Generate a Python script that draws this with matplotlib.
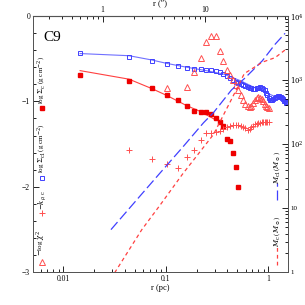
import numpy as np
import matplotlib
matplotlib.use('Agg')
import matplotlib.pyplot as plt
from matplotlib.lines import Line2D
from matplotlib.ticker import FixedLocator, NullFormatter, FuncFormatter, LogLocator

plt.rcParams['font.family'] = ['Liberation Serif', 'DejaVu Serif']
plt.rcParams['mathtext.fontset'] = 'dejavuserif'

# annulus radii (pc)
r_pc = [0.0146, 0.0438, 0.0730, 0.1022, 0.1314, 0.1606, 0.1898, 0.2190, 0.2482, 0.2774,
        0.3066, 0.3358, 0.3650, 0.3942, 0.4234, 0.4526, 0.4818, 0.5110, 0.5402, 0.5694,
        0.5986, 0.6278, 0.6570, 0.6862, 0.7154, 0.7446, 0.7738, 0.8030, 0.8322, 0.8614,
        0.8906, 0.9198, 0.9490, 0.9782, 1.0074, 1.0366, 1.0658, 1.0950, 1.1242, 1.1534,
        1.1826, 1.2118, 1.2410, 1.2702, 1.2994, 1.3286, 1.3578, 1.3870, 1.4162, 1.4454,
        1.4746, 1.5038, 1.5330]

# log Sigma_cl (blue open squares)
sig_cl = [-0.437, -0.48, -0.527, -0.563, -0.586, -0.61, -0.617, -0.625, -0.633, -0.635,
          -0.645, -0.653, -0.68, -0.703, -0.727, -0.75, -0.77, -0.785, -0.797, -0.81,
          -0.82, -0.83, -0.84, -0.845, -0.85, -0.85, -0.845, -0.84, -0.835, -0.84,
          -0.85, -0.87, -0.90, -0.93, -0.96, -0.98, -0.985, -0.98, -0.97, -0.96,
          -0.95, -0.945, -0.94, -0.94, -0.945, -0.95, -0.96, -0.975, -0.99, -1.0,
          -1.01, -1.02, -1.025]

# log Sigma_c (red filled squares)
sig_c = [-0.69, -0.76, -0.84, -0.92, -0.98, -1.06, -1.11, -1.12, -1.12, -1.15,
         -1.20, -1.24, -1.29, -1.44, -1.47, -1.61, -1.77, -2.00]

# log chi^2 (red open triangles)
nan = np.nan
chi2 = [nan, nan, nan, -0.847, nan, -0.836, -0.66, -0.49, -0.30, -0.23,
        -0.23, -0.41, -0.53, -0.63, -0.69, -0.75, -0.81, -0.87, -0.93, -0.98,
        -1.03, -1.06, -1.07, -1.05, -1.02, -0.98, -0.96, -0.95, -0.955, -0.97,
        -1.0, -1.03, -1.055, -1.07, -1.08]

# -k_rho,c (red pluses)
kval = [nan, -1.57, -1.68, -1.73, -1.785, -1.656, -1.57, -1.45, -1.37, -1.365,
        -1.36, -1.35, -1.32, -1.30, -1.29, -1.28, -1.28, -1.28, -1.285, -1.295,
        -1.31, -1.33, -1.32, -1.30, -1.285, -1.27, -1.26, -1.255, -1.25, -1.24,
        -1.24, -1.24, -1.24, -1.24, -1.24]

# model fits (solid lines)
fit_cl_r = [0.0146, 0.0438, 0.073, 0.102, 0.16, 0.248, 0.365, 0.54, 0.8, 1.2, 1.5]
fit_cl = [-0.44, -0.465, -0.515, -0.555, -0.60, -0.64, -0.68, -0.76, -0.86, -0.95, -1.0]
fit_c_r = [0.0146, 0.0438, 0.073, 0.102, 0.16, 0.219, 0.31]
fit_c = [-0.64, -0.74, -0.85, -0.93, -1.05, -1.12, -1.22]

# enclosed masses (Msun)
m_r = [0.0292, 0.0584, 0.0876, 0.146, 0.2336, 0.292, 0.438, 0.584, 0.876, 1.168, 1.46]
m_cl = [4.6, 16.6, 35, 89, 215, 309, 700, 1050, 2000, 3630, 5370]
m_c = [0.79, 4.6, 11, 34, 89, 141, 500, 1260, 1900, 2240, 2950]

pc_per_arcsec = 0.02424

fig = plt.figure(figsize=(3.05, 3.05), dpi=100)
ax = fig.add_axes([0.108, 0.108, 0.836, 0.8395])

blue = '#4040ff'
red = '#ee0000'
pink = '#ff5050'

ax.plot(fit_cl_r, fit_cl, '-', color='#7070ff', lw=0.8)
ax.plot(fit_c_r, fit_c, '-', color='#ff4040', lw=0.8)
ax.plot(r_pc, sig_cl, 's', mfc='none', mec=blue, ms=3.3, mew=0.7)
ax.plot(r_pc[:len(sig_c)], sig_c, 's', color=red, ms=3.3)
ax.plot(r_pc[:len(chi2)], chi2, '^', mfc='none', mec=pink, ms=4, mew=0.7)
ax.plot(r_pc[:len(kval)], kval, '+', color=pink, ms=5, mew=0.7)

ax.set_xscale('log')
ax.set_xlim(0.00506, 1.556)
ax.set_ylim(-3, 0)
ax.yaxis.set_major_locator(FixedLocator([-3, -2, -1, 0]))
ax.yaxis.set_minor_locator(FixedLocator(np.arange(-3, 0.01, 0.2)))
ax.xaxis.set_major_formatter(FuncFormatter(lambda v, p: {0.01: '0.01', 0.1: '0.1', 1: '1'}.get(round(v, 3), '')))
ax.tick_params(which='both', direction='in', labelsize=5.5, width=0.6, pad=2)
ax.tick_params(which='major', length=4)
ax.tick_params(which='minor', length=2)
ax.tick_params(axis='y', right=False)
ax.set_xlabel('r (pc)', fontsize=6, labelpad=1)
for s in ax.spines.values():
    s.set_linewidth(0.7)
    s.set_color('#555555')

# right axis: masses
ax2 = ax.twinx()
ax2.set_yscale('log')
ax2.set_ylim(1, 1e4)
ax2.plot(m_r, m_cl, color='#4040ff', lw=0.9, dashes=(8, 3))
ax2.plot(m_r, m_c, color='#ff4040', lw=0.9, dashes=(3, 2.5))
ax2.yaxis.set_major_formatter(FuncFormatter(
    lambda v, p: {1: '1', 10: '10'}.get(int(round(v)), r'$10^{%d}$' % int(round(np.log10(v))))))
ax2.tick_params(which='both', direction='in', labelsize=5, width=0.6, pad=1.5)
ax2.tick_params(which='major', length=4)
ax2.tick_params(which='minor', length=2)
for s in ax2.spines.values():
    s.set_linewidth(0.7)
    s.set_color('#555555')

# top axis: arcsec
sec = ax.secondary_xaxis('top', functions=(lambda x: x / pc_per_arcsec, lambda x: x * pc_per_arcsec))
sec.xaxis.set_major_locator(FixedLocator([1, 10]))
sec.xaxis.set_minor_locator(LogLocator(base=10, subs=np.arange(2, 10)))
sec.xaxis.set_minor_formatter(NullFormatter())
sec.xaxis.set_major_formatter(FuncFormatter(lambda v, p: '%d' % v))
sec.tick_params(which='both', direction='in', labelsize=5.5, width=0.6, pad=1.5)
sec.tick_params(which='major', length=4)
sec.tick_params(which='minor', length=2)
sec.set_xlabel('r (\u2033)', fontsize=6, labelpad=0.5)

ax.text(0.04, 0.918, 'C9', transform=ax.transAxes, fontsize=11, va='center', ha='left')

# in-plot keys
kx = 0.034
lab = dict(transform=ax.transAxes, rotation=90, fontsize=5, ha='center', va='center')
ax.text(kx, 0.75, r'log $\Sigma_{\rm c}$ (g cm$^{-2}$)', **lab)
ax.plot([kx], [0.64], 's', color=red, ms=3.3, transform=ax.transAxes, clip_on=False)
ax.text(kx, 0.484, r'log $\Sigma_{\rm cl}$ (g cm$^{-2}$)', **lab)
ax.plot([kx], [0.367], 's', mfc='none', mec=blue, ms=3.3, mew=0.7, transform=ax.transAxes)
ax.text(kx, 0.281, r'$-k_{\rho,{\rm c}}$', **lab)
ax.plot([kx], [0.23], '+', color=pink, ms=5, mew=0.7, transform=ax.transAxes)
ax.text(kx, 0.113, r'$-$log $\chi^2$', **lab)
ax.plot([kx], [0.039], '^', mfc='none', mec=pink, ms=4, mew=0.7, transform=ax.transAxes)

rx = 0.956
ax.text(rx, 0.41, r'$M_{\rm cl}$ ($M_\odot$)', **lab)
ax.add_line(Line2D([rx, rx], [0.281, 0.348], transform=ax.transAxes, color='#4040ff', lw=0.9, dashes=(8, 3)))
ax.text(rx, 0.16, r'$M_{\rm c}$ ($M_\odot$)', **lab)
ax.add_line(Line2D([rx, rx], [0.027, 0.098], transform=ax.transAxes, color='#ff4040', lw=0.9, dashes=(3, 2.5)))

fig.savefig('out.png', dpi=100)
